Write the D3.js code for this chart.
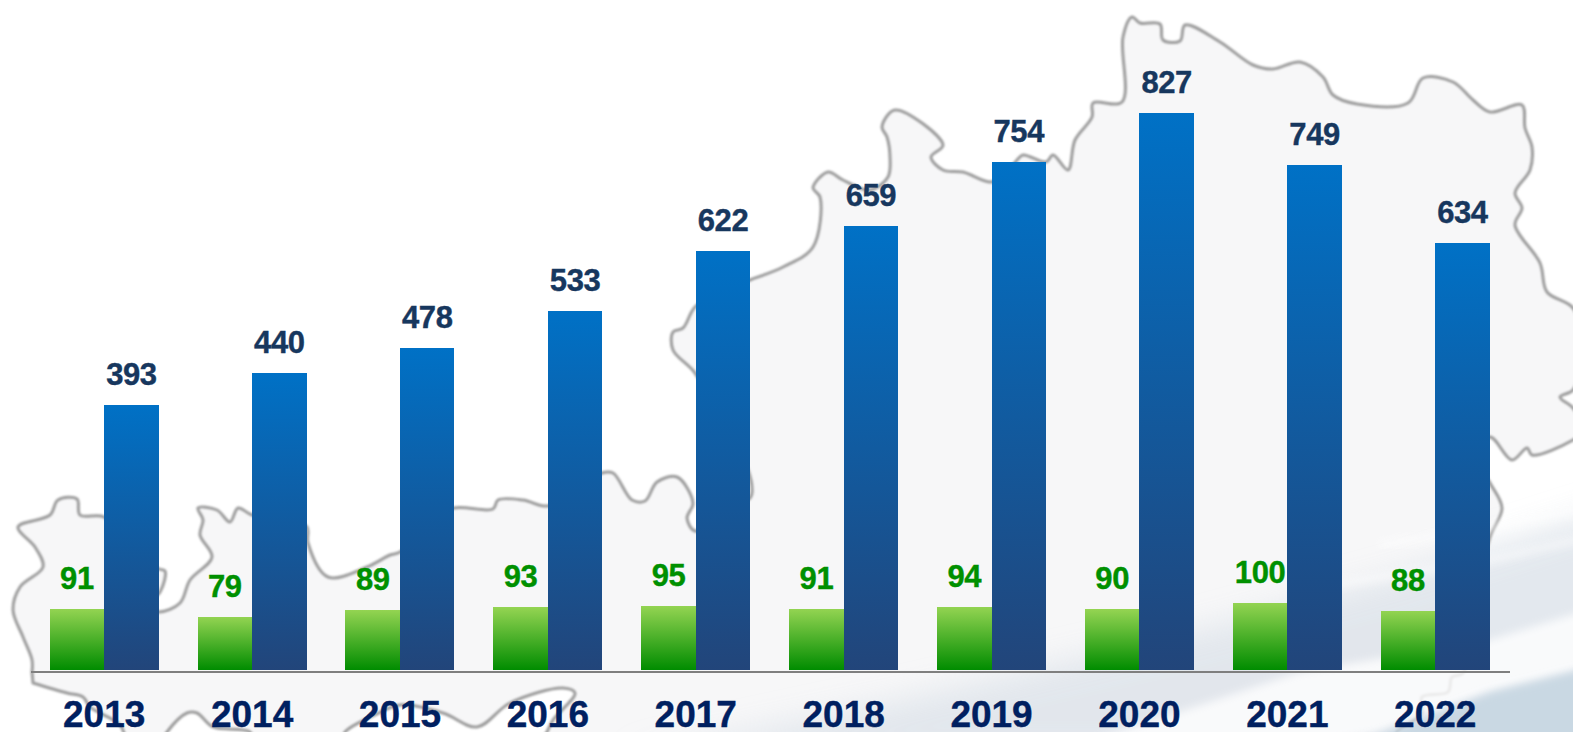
<!DOCTYPE html>
<html>
<head>
<meta charset="utf-8">
<script src="https://cdn.jsdelivr.net/npm/d3@7"></script>
<style>
html,body{margin:0;padding:0;background:#fff;overflow:hidden}
svg{display:block}
text{font-family:"Liberation Sans",Arial,sans-serif;font-weight:700}
</style>
</head>
<body>
<svg id="chart" width="1573" height="732"></svg>
<script>
const years = ["2013","2014","2015","2016","2017","2018","2019","2020","2021","2022"];
const greenValues = [91,79,89,93,95,91,94,90,100,88];
const blueValues = [393,440,478,533,622,659,754,827,749,634];

// Decorative backdrop: traced map outline and swooshes
const mapOutline = [[32,672],[32,660],[23,637],[13,610],[20,587],[43,567],[35,547],[18,527],[50,515],[58,500],[77,499],[80,515],[104,517],[125,545],[159,569],[165,571],[160,592],[145,606],[159,612],[180,603],[190,580],[212,557],[200,535],[203,520],[198,508],[217,510],[230,522],[238,508],[252,515],[290,520],[307,527],[308,543],[328,577],[367,567],[390,555],[400,552],[430,520],[454,508],[493,509],[498,500],[523,500],[548,506],[575,490],[602,473],[613,473],[632,500],[645,501],[657,482],[677,477],[693,503],[687,518],[695,531],[725,515],[750,498],[752,493],[748,470],[720,420],[695,373],[673,350],[673,332],[683,328],[695,307],[720,292],[750,280],[783,267],[813,247],[820,197],[813,188],[828,172],[843,180],[870,190],[888,177],[890,157],[887,137],[882,127],[895,110],[943,145],[931,157],[943,170],[963,172],[991,182],[1005,175],[1017,160],[1023,155],[1046,162],[1053,155],[1068,170],[1075,140],[1092,117],[1093,103],[1122,102],[1123,37],[1132,17],[1140,23],[1160,24],[1163,40],[1180,41],[1185,25],[1220,42],[1253,65],[1273,69],[1300,62],[1323,77],[1333,95],[1357,104],[1408,103],[1423,78],[1453,82],[1473,100],[1490,112],[1522,105],[1525,128],[1532,147],[1530,170],[1515,193],[1522,208],[1515,225],[1540,263],[1547,292],[1573,308],[1585,350],[1573,390],[1560,397],[1573,408],[1585,430],[1573,440],[1532,455],[1527,448],[1512,460],[1490,437],[1475,455],[1490,483],[1502,508],[1490,537],[1475,600],[1463,673],[1452,677],[1448,692],[1422,697],[1422,713],[1397,732],[1390,745],[540,745],[547,732],[553,720],[575,693],[563,688],[510,703],[477,727],[443,713],[400,705],[375,715],[345,732],[340,745],[255,745],[250,732],[213,727],[197,713],[187,713],[167,732],[160,745],[130,745],[120,725],[90,707],[83,697],[67,693],[33,683]];
const swooshBase = [[620,760],[900,700],[1200,630],[1400,575],[1620,505],[1620,760]];
const swooshWhite = [[1080,745],[1300,672],[1490,640],[1620,600],[1620,660],[1490,693],[1380,732],[1280,750]];
const swooshDark = [[1620,660],[1490,693],[1340,750],[1620,750]];
const streaks = [[[1300,590],[1490,560],[1600,535]],[[1380,545],[1490,528],[1600,505]]];

const svg = d3.select("#chart");
const defs = svg.append("defs");
function vGrad(id, top, bottom){
  const g = defs.append("linearGradient").attr("id",id).attr("x1",0).attr("x2",0).attr("y1",0).attr("y2",1);
  g.append("stop").attr("offset","0%").attr("stop-color",top);
  g.append("stop").attr("offset","100%").attr("stop-color",bottom);
}
vGrad("gGreen","#94d452","#008c00");
vGrad("gBlue","#0071c6","#22457a");
function blur(id, s){
  defs.append("filter").attr("id",id).attr("x","-10%").attr("y","-10%").attr("width","120%").attr("height","120%")
    .append("feGaussianBlur").attr("stdDeviation",s);
}
blur("soft",1); blur("wide",16); blur("mid",4);

const bg = svg.append("g");
const outline = d3.line().curve(d3.curveCatmullRom.alpha(0.5));
const poly = d3.line();
bg.append("path").attr("d",outline(mapOutline)+"Z").attr("fill","#f7f7f8");
bg.append("path").attr("d",poly(swooshBase)+"Z").attr("fill","#dde3ea").attr("opacity",0.8).attr("filter","url(#wide)");
bg.append("path").attr("d",outline(mapOutline)+"Z").attr("fill","none").attr("stroke","#9c9c9c").attr("stroke-width",3).attr("stroke-linejoin","round").attr("filter","url(#soft)");
streaks.forEach(s=>bg.append("path").attr("d",poly(s)).attr("fill","none").attr("stroke","#fff").attr("stroke-width",8).attr("opacity",0.5).attr("filter","url(#mid)"));
bg.append("path").attr("d",poly(swooshWhite)+"Z").attr("fill","#ffffff").attr("opacity",0.8).attr("filter","url(#mid)");
bg.append("path").attr("d",poly(swooshDark)+"Z").attr("fill","#c9d8e3").attr("filter","url(#mid)");

const x = d3.scaleBand().domain(years).range([30.25,1509.15]).paddingInner(0.263).paddingOuter(0.1315);
const sub = d3.scaleBand().domain(["green","blue"]).range([0,x.bandwidth()]);
const baseY = 670;
const y = d3.scaleLinear().domain([0,827]).range([baseY,112.6]);

const rows = years.map((yr,i)=>({yr, green:greenValues[i], blue:blueValues[i]}));
const marks = svg.append("g").attr("shape-rendering","crispEdges");

function series(key, fill){
  const left = d=>Math.round(x(d.yr)+sub(key));
  const right = d=>Math.round(x(d.yr)+sub(key)+sub.bandwidth());
  marks.selectAll("rect."+key).data(rows).join("rect").attr("class",key)
    .attr("x",left).attr("width",d=>right(d)-left(d))
    .attr("y",d=>y(d[key])).attr("height",d=>baseY-y(d[key]))
    .attr("fill",fill);
}
series("green","url(#gGreen)");
series("blue","url(#gBlue)");

svg.append("g").selectAll("text.g").data(rows).join("text").attr("class","g")
  .attr("x",d=>x(d.yr)+sub("green")+sub.bandwidth()/2)
  .attr("y",d=>y(d.green)-20)
  .attr("text-anchor","middle").attr("font-size",31).attr("letter-spacing",-0.4)
  .attr("fill","#009000").attr("stroke","#009000").attr("stroke-width",0.4)
  .text(d=>d.green);
svg.append("g").selectAll("text.b").data(rows).join("text").attr("class","b")
  .attr("x",d=>x(d.yr)+sub("blue")+sub.bandwidth()/2)
  .attr("y",d=>y(d.blue)-20)
  .attr("text-anchor","middle").attr("font-size",31).attr("letter-spacing",-0.4)
  .attr("fill","#17375e").attr("stroke","#17375e").attr("stroke-width",0.4)
  .text(d=>d.blue);

const axis = svg.append("g").attr("transform",`translate(0,${baseY+1})`)
  .call(d3.axisBottom(x).tickSize(0).tickPadding(30).tickSizeOuter(0));
axis.select(".domain").attr("stroke","#7f7f7f").attr("stroke-width",2).attr("shape-rendering","crispEdges");
axis.selectAll(".tick text").attr("font-size",37).attr("fill","#002060")
  .attr("stroke","#002060").attr("stroke-width",0.4)
  .style("font-family",'"Liberation Sans",Arial,sans-serif').style("font-weight",700);
</script>
</body>
</html>
